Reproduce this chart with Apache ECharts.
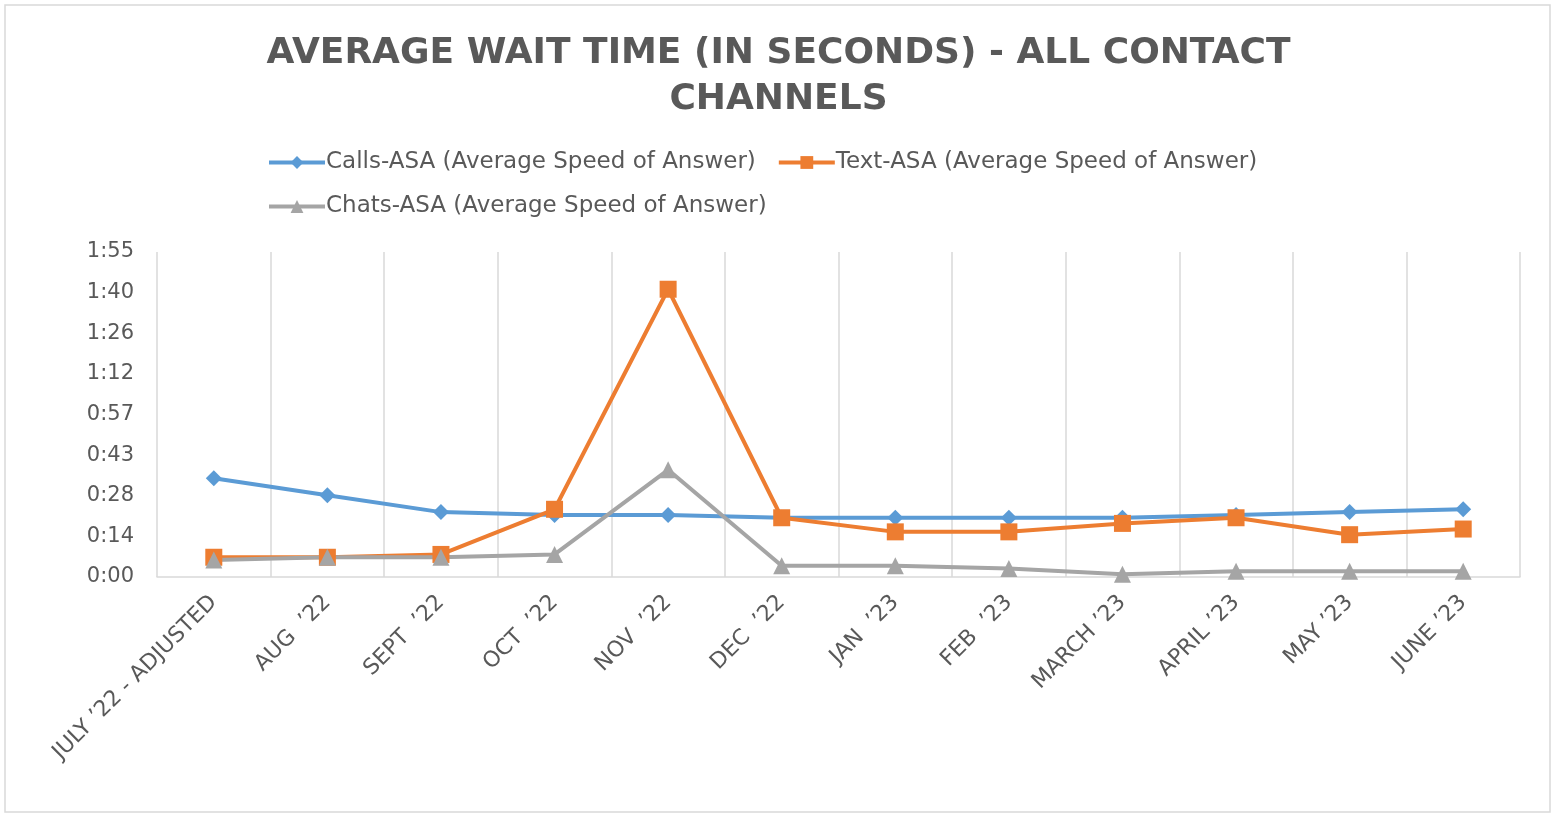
<!DOCTYPE html>
<html>
<head>
    <meta charset="utf-8">
    <title>ECharts</title>
    <script src="https://fastly.jsdelivr.net/npm/echarts@6/dist/echarts.min.js"></script>
</head>
<body style="margin:0">
    <div id="main" style="width: 1557px;height:814px;"></div>
    <script type="text/javascript">
        // categories and values in seconds
        var months = ['JULY \u201922 - ADJUSTED', 'AUG  \u201922', 'SEPT  \u201922', 'OCT  \u201922', 'NOV  \u201922', 'DEC  \u201922',
            'JAN  \u201923', 'FEB  \u201923', 'MARCH \u201923', 'APRIL \u201923', 'MAY \u201923', 'JUNE \u201923'];
        var callsAsa = [35, 29, 23, 22, 22, 21, 21, 21, 21, 22, 23, 24];
        var textAsa = [7, 7, 8, 24, 102, 21, 16, 16, 19, 21, 15, 17];
        var chatsAsa = [6, 7, 7, 8, 38, 4, 4, 3, 1, 2, 2, 2];
        var seriesNames = ['Calls-ASA (Average Speed of Answer)', 'Text-ASA (Average Speed of Answer)', 'Chats-ASA (Average Speed of Answer)'];

        var txt = '#595959';
        var font = 'DejaVu Sans';

        // excel style m:ss, seconds truncated
        function mmss(v) {
            var s = Math.floor(v + 1e-6);
            var m = Math.floor(s / 60);
            var r = s % 60;
            return m + ':' + (r < 10 ? '0' : '') + r;
        }

        function line(name, data, color, symbol, size) {
            return {
                name: name,
                type: 'line',
                data: data,
                symbol: symbol,
                symbolSize: size,
                lineStyle: { color: color, width: 4 },
                itemStyle: { color: color },
                emphasis: { disabled: true }
            };
        }

        var myChart = echarts.init(document.getElementById('main'));

        option = {
            backgroundColor: '#fff',
            animation: false,
            graphic: [{
                type: 'rect',
                shape: { x: 5, y: 5, width: 1545, height: 807 },
                style: { fill: 'none', stroke: '#d9d9d9', lineWidth: 1.5 }
            }],
            title: {
                text: 'AVERAGE WAIT TIME (IN SECONDS) - ALL CONTACT\nCHANNELS',
                left: 'center',
                top: 26,
                textStyle: { fontFamily: font, fontSize: 36, fontWeight: 'bold', color: txt, lineHeight: 46 }
            },
            legend: {
                left: 262,
                top: 146,
                width: 1060,
                itemWidth: 56,
                itemHeight: 16,
                itemGap: 21,
                lineStyle: { width: 4 },
                textStyle: { fontFamily: font, fontSize: 23, color: txt, padding: [0, 0, 0, -4] },
                data: seriesNames
            },
            grid: { left: 157, right: 37, top: 252, bottom: 237 },
            xAxis: {
                type: 'category',
                data: months,
                boundaryGap: true,
                axisLine: { lineStyle: { color: '#d9d9d9', width: 1.5 } },
                axisTick: { show: false },
                splitLine: { show: true, interval: 0, lineStyle: { color: '#d9d9d9', width: 1.5 } },
                axisLabel: { interval: 0, rotate: 45, margin: 22, fontFamily: font, fontSize: 22, color: txt }
            },
            yAxis: {
                type: 'value',
                min: 0,
                max: 115.2,
                interval: 14.4,
                axisLine: { show: false },
                axisTick: { show: false },
                splitLine: { show: false },
                axisLabel: { margin: 23, fontFamily: font, fontSize: 21, color: txt, formatter: mmss }
            },
            series: [
                line(seriesNames[0], callsAsa, '#5B9BD5', 'diamond', 16),
                line(seriesNames[1], textAsa, '#ED7D31', 'rect', 17),
                line(seriesNames[2], chatsAsa, '#A5A5A5', 'triangle', 17)
            ]
        };

        myChart.setOption(option);
    </script>
</body>
</html>
